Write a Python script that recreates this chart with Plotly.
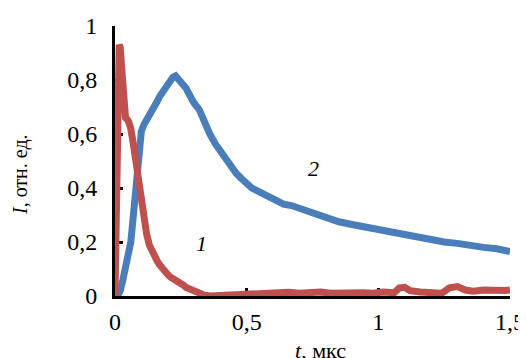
import plotly.graph_objects as go

# Curve 1 (red)
t1 = [0, 0.006, 0.009, 0.012, 0.016, 0.02, 0.025, 0.03, 0.035, 0.04, 0.05, 0.06, 0.07, 0.08, 0.09,
      0.1, 0.11, 0.12, 0.13, 0.14, 0.15, 0.16, 0.17, 0.18, 0.19, 0.2, 0.21, 0.22, 0.23, 0.24,
      0.25, 0.26, 0.27, 0.28, 0.29, 0.30, 0.31, 0.32, 0.33, 0.34, 0.36, 0.40, 0.45, 0.50, 0.55,
      0.58, 0.62, 0.66, 0.70, 0.74, 0.78, 0.82, 0.86, 0.90, 0.94, 0.98, 1.02, 1.06, 1.08, 1.10,
      1.12, 1.16, 1.20, 1.24, 1.27, 1.30, 1.33, 1.36, 1.40, 1.44, 1.48, 1.5]
i1 = [0, 0.3, 0.6, 0.85, 0.93, 0.92, 0.85, 0.76, 0.68, 0.66, 0.65, 0.62, 0.56, 0.49, 0.42,
      0.35, 0.29, 0.23, 0.19, 0.165, 0.15, 0.13, 0.115, 0.10, 0.09, 0.08, 0.07, 0.065, 0.055, 0.05,
      0.045, 0.04, 0.032, 0.028, 0.02, 0.018, 0.012, 0.008, 0.005, 0.003, 0.0, 0.002, 0.0, 0.003, 0.008,
      0.012, 0.01, 0.014, 0.01, 0.012, 0.015, 0.01, 0.012, 0.016, 0.012, 0.01, 0.015, 0.012, 0.03, 0.032,
      0.02, 0.015, 0.012, 0.01, 0.03, 0.035, 0.022, 0.018, 0.022, 0.018, 0.02, 0.022]

# Curve 2 (blue)
t2 = [0.01, 0.02, 0.03, 0.04, 0.05, 0.06, 0.065, 0.07, 0.075, 0.08, 0.085, 0.09, 0.095, 0.1,
      0.11, 0.12, 0.13, 0.14, 0.15, 0.16, 0.17, 0.18, 0.19, 0.2, 0.21, 0.22, 0.23, 0.24, 0.25,
      0.26, 0.27, 0.28, 0.29, 0.30, 0.32, 0.34, 0.36, 0.38, 0.40, 0.42, 0.44, 0.46, 0.48, 0.50,
      0.52, 0.55, 0.58, 0.61, 0.64, 0.67, 0.70, 0.73, 0.76, 0.80, 0.85, 0.90, 0.95, 1.0, 1.05,
      1.1, 1.15, 1.2, 1.25, 1.3, 1.35, 1.4, 1.45, 1.48, 1.5]
i2 = [0, 0.02, 0.06, 0.1, 0.15, 0.2, 0.25, 0.3, 0.36, 0.43, 0.5, 0.55, 0.58, 0.61,
      0.635, 0.65, 0.665, 0.68, 0.70, 0.72, 0.74, 0.755, 0.77, 0.785, 0.795, 0.81, 0.815, 0.805, 0.79,
      0.78, 0.77, 0.75, 0.73, 0.715, 0.69, 0.64, 0.6, 0.565, 0.535, 0.505, 0.48, 0.455, 0.435, 0.415,
      0.40, 0.385, 0.37, 0.355, 0.34, 0.335, 0.325, 0.31, 0.30, 0.285, 0.275, 0.265, 0.255, 0.245, 0.235,
      0.225, 0.215, 0.21, 0.2, 0.195, 0.185, 0.18, 0.175, 0.17, 0.165]

x_ticks = [0, 0.5, 1, 1.5]
x_labels = ["0", "0,5", "1", "1,5"]
y_ticks = [0, 0.2, 0.4, 0.6, 0.8, 1]
y_labels = ["0", "0,2", "0,4", "0,6", "0,8", "1"]

RED = "#C0504D"
BLUE = "#4A7EBB"
FONT = "Liberation Serif"

fig = go.Figure()
fig.add_trace(go.Scatter(x=t2, y=i2, mode="lines", line=dict(color=BLUE, width=7), showlegend=False))
fig.add_trace(go.Scatter(x=t1, y=i1, mode="lines", line=dict(color=RED, width=7), showlegend=False))

axis_common = dict(showgrid=False, zeroline=False, showline=True, linecolor="black", linewidth=3,
                   ticks="inside", ticklen=8, tickwidth=3, tickcolor="black", layer="below traces",
                   automargin=False, tickfont=dict(family=FONT, size=24, color="black"))

fig.update_layout(
    width=518, height=350,
    margin=dict(l=107, r=16, t=18, b=62),
    paper_bgcolor="white", plot_bgcolor="white",
    font=dict(family=FONT, size=24, color="black"),
    xaxis=dict(range=[0, 1.5], tickvals=x_ticks, ticktext=x_labels, ticklabelstandoff=2, **axis_common),
    yaxis=dict(range=[0, 1], tickvals=y_ticks, ticktext=y_labels, ticklabelstandoff=10, **axis_common),
    annotations=[
        dict(x=0.327, y=0.196, xref="x", yref="y", text="<i>1</i>", showarrow=False,
             font=dict(family=FONT, size=22)),
        dict(x=0.752, y=0.474, xref="x", yref="y", text="<i>2</i>", showarrow=False,
             font=dict(family=FONT, size=22)),
        dict(x=0.519, y=-0.2, xref="paper", yref="paper", text="<i>t</i>, мкс", showarrow=False,
             yanchor="middle", xanchor="center", font=dict(family=FONT, size=22)),
        dict(x=-0.2405, y=0.448, xref="paper", yref="paper", text="<i>I</i>, отн. ед.", showarrow=False,
             textangle=-90, xanchor="center", yanchor="middle", font=dict(family=FONT, size=20)),
    ],
)

fig.write_html("out.html")
